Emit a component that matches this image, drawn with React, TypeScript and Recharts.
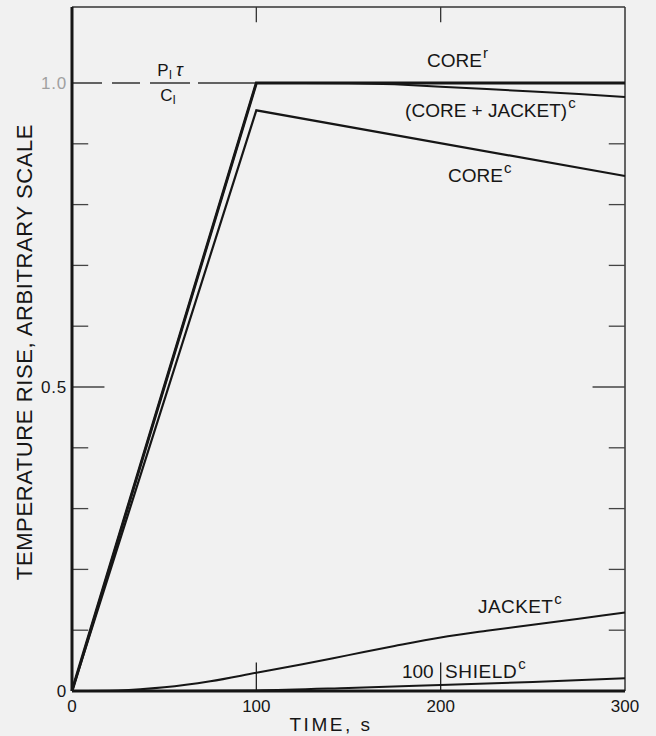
import React from 'react';
import { LineChart, Line, XAxis, YAxis, ReferenceLine, ReferenceDot, Label } from 'recharts';

document.body.style.margin = '0';
document.body.style.background = '#f1f1f1';

// axis ticks
const X_TICKS = [0, 100, 200, 300];
const Y_TICKS = [0, 0.5, 1.0];
const Y_MINOR = [0.1, 0.2, 0.3, 0.4, 0.6, 0.7, 0.8, 0.9];
const Y_MAJOR = [0.5];
const X_INNER = [100, 200];
const Y_MAX = 1.125;

// series (time in s, temperature rise)
const CORE_R_T = [0, 100, 300];
const CORE_R_V = [0, 1.0, 1.0];

const CORE_JACKET_T = [0, 100, 125, 150, 175, 200, 225, 250, 275, 300];
const CORE_JACKET_V = [0, 1.0, 1.0, 0.9995, 0.998, 0.994, 0.99, 0.986, 0.982, 0.977];

const CORE_C_T = [0, 100, 300];
const CORE_C_V = [0, 0.955, 0.847];

const JACKET_T = [0, 25, 50, 75, 100, 125, 150, 175, 200, 225, 250, 275, 300];
const JACKET_V = [0, 0.001, 0.006, 0.016, 0.03, 0.044, 0.059, 0.074, 0.088, 0.099, 0.109, 0.119, 0.129];

const SHIELD_T = [0, 50, 100, 150, 200, 250, 300];
const SHIELD_V = [0, 0, 0.001, 0.005, 0.01, 0.015, 0.021];

const toPoints = (t: number[], v: number[]) => t.map((x, i) => ({ t: x, v: v[i] }));

const INK = '#161616';
const FONT = '"Liberation Sans", Arial, sans-serif';

// tick lengths in data units
const Y_TICK_SHORT = 8.8;
const Y_TICK_LONG = 17.6;
const X_TICK_TOP = 0.025;
const X_TICK_BOTTOM = 0.047;

type Note = { x: number; y: number; text: string; sup?: string; size?: number; spacing?: number };

const NOTES: Note[] = [
  { x: 192.6, y: 1.026, text: 'CORE', sup: 'r' },
  { x: 180.7, y: 0.944, text: '(CORE + JACKET)', sup: 'c' },
  { x: 204, y: 0.837, text: 'CORE', sup: 'c' },
  { x: 220.3, y: 0.128, text: 'JACKET', sup: 'c', spacing: 0.4 },
  { x: 179, y: 0.021, text: '100' },
  { x: 202.4, y: 0.021, text: 'SHIELD', sup: 'c', spacing: 0.6 },
];

const renderNote = (n: Note) => (props: any) => (
  <text
    x={props.cx}
    y={props.cy}
    fontFamily={FONT}
    fontSize={n.size ?? 19}
    letterSpacing={n.spacing ?? 0}
    fill={INK}
  >
    {n.text}
    {n.sup ? (
      <tspan dx={1} dy={-9} fontSize={15}>
        {n.sup}
      </tspan>
    ) : null}
  </text>
);

const renderFraction = (props: any) => (
  <g fontFamily={FONT} fill={INK}>
    <text x={props.cx} y={props.cy - 7} fontSize={17} textAnchor="middle">
      P
      <tspan fontSize={12} dy={3}>
        I
      </tspan>
      <tspan dy={-3} dx={4} fontSize={18} fontStyle="italic">
        τ
      </tspan>
    </text>
    <text x={props.cx - 2} y={props.cy + 18} fontSize={17} textAnchor="middle">
      C
      <tspan fontSize={12} dy={3}>
        I
      </tspan>
    </text>
  </g>
);

const renderYTick = (props: any) => {
  const value = props.payload.value;
  const label = value === 0 ? '0' : value.toFixed(1);
  return (
    <text
      x={props.x}
      y={props.y}
      dy="0.36em"
      textAnchor="end"
      fontFamily={FONT}
      fontSize={17}
      letterSpacing={0.8}
      fill={value === 1 ? '#a0a0a0' : INK}
    >
      {label}
    </text>
  );
};

const renderYTitle = (props: any) => {
  const vb = props.viewBox;
  const x = vb.x + 32;
  const y = vb.y + vb.height / 2 + 3;
  return (
    <text
      x={x}
      y={y}
      transform={`rotate(-90 ${x} ${y})`}
      textAnchor="middle"
      fontFamily={FONT}
      fontSize={22}
      letterSpacing={0.6}
      fill={INK}
    >
      TEMPERATURE RISE, ARBITRARY SCALE
    </text>
  );
};

const renderXTitle = (props: any) => {
  const vb = props.viewBox;
  return (
    <text
      x={vb.x + 259}
      y={vb.y + 40}
      textAnchor="middle"
      fontFamily={FONT}
      fontSize={19}
      letterSpacing={2.5}
      fill={INK}
    >
      TIME, s
    </text>
  );
};

export default function App() {
  return (
    <div style={{ width: 656, height: 736, background: '#f1f1f1' }}>
      <LineChart width={656} height={736} margin={{ top: 7, right: 31, left: 0, bottom: 0 }}>
        <XAxis
          type="number"
          dataKey="t"
          domain={[0, 300]}
          ticks={X_TICKS}
          height={45}
          tickSize={0}
          tickMargin={9}
          tick={{ fontFamily: FONT, fontSize: 17, fill: INK }}
          axisLine={{ stroke: INK, strokeWidth: 3 }}
          allowDuplicatedCategory={false}
        >
          <Label content={renderXTitle} />
        </XAxis>
        <YAxis
          type="number"
          domain={[0, Y_MAX]}
          ticks={Y_TICKS}
          width={72}
          tickSize={0}
          tickMargin={5}
          tick={renderYTick}
          axisLine={{ stroke: INK, strokeWidth: 3 }}
        >
          <Label content={renderYTitle} />
        </YAxis>

        {/* frame */}
        <ReferenceLine y={Y_MAX} stroke="#333" strokeWidth={1.5} />
        <ReferenceLine x={300} stroke="#333" strokeWidth={1.5} />

        {/* inward ticks */}
        {Y_MINOR.map((y) => (
          <ReferenceLine key={`l${y}`} segment={[{ x: 0, y }, { x: Y_TICK_SHORT, y }]} stroke="#444" strokeWidth={1.3} />
        ))}
        {Y_MAJOR.map((y) => (
          <ReferenceLine key={`lm${y}`} segment={[{ x: 0, y }, { x: Y_TICK_LONG, y }]} stroke="#444" strokeWidth={1.3} />
        ))}
        {Y_MINOR.map((y) => (
          <ReferenceLine key={`r${y}`} segment={[{ x: 300 - Y_TICK_SHORT, y }, { x: 300, y }]} stroke="#444" strokeWidth={1.3} />
        ))}
        {Y_MAJOR.map((y) => (
          <ReferenceLine key={`rm${y}`} segment={[{ x: 300 - Y_TICK_LONG, y }, { x: 300, y }]} stroke="#444" strokeWidth={1.3} />
        ))}
        {X_INNER.map((x) => (
          <ReferenceLine key={`t${x}`} segment={[{ x, y: Y_MAX }, { x, y: Y_MAX - X_TICK_TOP }]} stroke="#333" strokeWidth={1.3} />
        ))}
        {X_INNER.map((x) => (
          <ReferenceLine key={`b${x}`} segment={[{ x, y: 0 }, { x, y: X_TICK_BOTTOM }]} stroke="#222" strokeWidth={1.3} />
        ))}

        {/* P1 tau / C1 level */}
        <ReferenceLine
          segment={[{ x: 0, y: 1 }, { x: 100, y: 1 }]}
          stroke="#333"
          strokeWidth={1.4}
          strokeDasharray="30 10 28 10 40 8 60"
        />

        <Line data={toPoints(SHIELD_T, SHIELD_V)} dataKey="v" type="monotone" stroke={INK} strokeWidth={2} dot={false} isAnimationActive={false} />
        <Line data={toPoints(JACKET_T, JACKET_V)} dataKey="v" type="monotone" stroke={INK} strokeWidth={2} dot={false} isAnimationActive={false} />
        <Line data={toPoints(CORE_C_T, CORE_C_V)} dataKey="v" type="linear" stroke={INK} strokeWidth={2.2} dot={false} isAnimationActive={false} />
        <Line data={toPoints(CORE_JACKET_T, CORE_JACKET_V)} dataKey="v" type="linear" stroke={INK} strokeWidth={2} dot={false} isAnimationActive={false} />
        <Line data={toPoints(CORE_R_T, CORE_R_V)} dataKey="v" type="linear" stroke={INK} strokeWidth={3} dot={false} isAnimationActive={false} />

        <ReferenceDot x={53.2} y={1} r={0} ifOverflow="visible" shape={renderFraction} />
        {NOTES.map((n, i) => (
          <ReferenceDot key={i} x={n.x} y={n.y} r={0} ifOverflow="visible" shape={renderNote(n)} />
        ))}
      </LineChart>
    </div>
  );
}
